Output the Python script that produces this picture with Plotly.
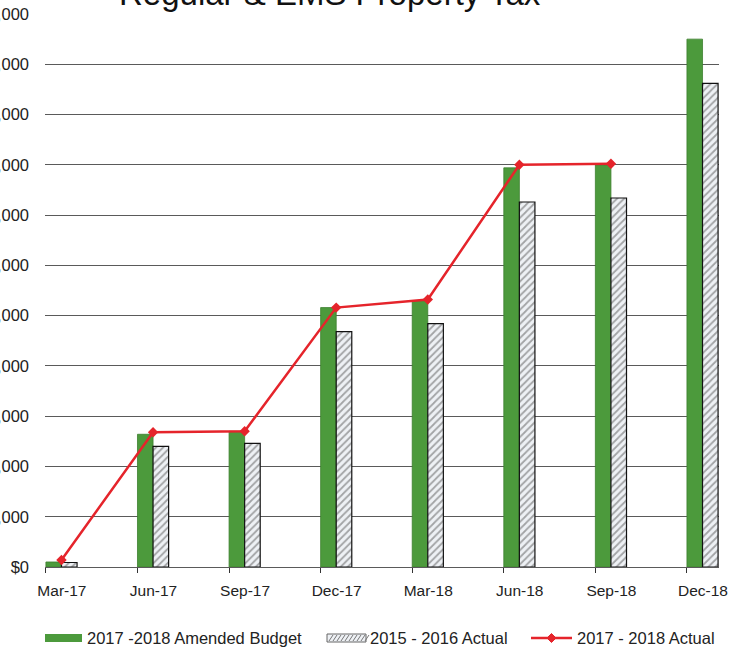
import plotly.graph_objects as go

# Quarter labels and cumulative property tax totals (dollars)
quarters = ["Mar-17", "Jun-17", "Sep-17", "Dec-17", "Mar-18", "Jun-18", "Sep-18", "Dec-18"]
amended_budget_1718 = [10000, 264000, 270000, 516000, 530000, 794000, 800000, 1050000]
actual_1516 = [9000, 240000, 246000, 468000, 484000, 726000, 734000, 962000]
actual_1718 = [14000, 268000, 270000, 516000, 532000, 800000, 802000, None]
y_ticks = [0, 100000, 200000, 300000, 400000, 500000, 600000, 700000, 800000, 900000, 1000000, 1100000]

series_names = ["2017 -2018 Amended Budget", "2015 - 2016 Actual", "2017 - 2018 Actual"]

GREEN = "#4c9a3c"
RED = "#e5242b"
HATCH_BG = "#eef1f5"
pos = list(range(len(quarters)))
bar_w = 0.17
font_family = "Arial, Liberation Sans, sans-serif"

W, H = 735, 651
M = dict(l=45, r=16, t=14, b=84)
plot_w = W - M["l"] - M["r"]
plot_h = H - M["t"] - M["b"]
x_range = [-0.18, len(quarters) - 1 + 0.18]
px_per_cat = plot_w / (x_range[1] - x_range[0])


def px_x(px):
    """Page pixel column -> paper x."""
    return (px - M["l"]) / plot_w


def px_y(py):
    """Page pixel row -> paper y."""
    return (H - M["b"] - py) / plot_h


fig = go.Figure()

fig.add_trace(go.Bar(
    x=pos, y=amended_budget_1718, name=series_names[0],
    width=bar_w, offset=-bar_w,
    marker=dict(color=GREEN, line=dict(color="#3c7f2e", width=0.8)),
))
fig.add_trace(go.Bar(
    x=pos, y=actual_1516, name=series_names[1],
    width=bar_w, offset=0,
    marker=dict(color=HATCH_BG, line=dict(color="#111111", width=1.2),
                pattern=dict(shape="/", fgcolor="#555555", bgcolor=HATCH_BG,
                             size=5, solidity=0.35)),
))
fig.add_trace(go.Scatter(
    x=pos, y=actual_1718, name=series_names[2],
    mode="lines+markers",
    line=dict(color=RED, width=2.5),
    marker=dict(symbol="diamond", size=8, color=RED),
))

# Legend row drawn below the axis: wide swatches followed by labels
leg_y = 638
shapes = []
annotations = []

# green swatch
shapes.append(dict(type="rect", xref="paper", yref="paper",
                   x0=px_x(45), x1=px_x(82), y0=px_y(642), y1=px_y(634),
                   fillcolor=GREEN, line=dict(width=0)))
# hatched swatch
shapes.append(dict(type="rect", xref="paper", yref="paper",
                   x0=px_x(327), x1=px_x(366), y0=px_y(642), y1=px_y(634),
                   fillcolor=HATCH_BG, line=dict(color="#666666", width=1)))
hatch_path = ""
for hx in range(329, 366, 4):
    hatch_path += "M{:.5f},{:.5f} L{:.5f},{:.5f} ".format(
        px_x(hx), px_y(641), px_x(hx + 4), px_y(635))
shapes.append(dict(type="path", xref="paper", yref="paper", path=hatch_path.strip(),
                   line=dict(color="#777777", width=1)))
# red line swatch with diamond
shapes.append(dict(type="line", xref="paper", yref="paper",
                   x0=px_x(531), x1=px_x(572), y0=px_y(leg_y), y1=px_y(leg_y),
                   line=dict(color=RED, width=2.5)))
dcx, dr = 551.5, 4.5
diamond = "M{:.5f},{:.5f} L{:.5f},{:.5f} L{:.5f},{:.5f} L{:.5f},{:.5f} Z".format(
    px_x(dcx), px_y(leg_y - dr), px_x(dcx + dr), px_y(leg_y),
    px_x(dcx), px_y(leg_y + dr), px_x(dcx - dr), px_y(leg_y))
shapes.append(dict(type="path", xref="paper", yref="paper", path=diamond,
                   fillcolor=RED, line=dict(color=RED, width=1)))

for name, tx in zip(series_names, [85, 368, 575]):
    annotations.append(dict(
        text=name, xref="paper", yref="paper", x=px_x(tx), y=px_y(leg_y),
        xanchor="left", yanchor="middle", showarrow=False,
        font=dict(size=16.5, family=font_family, color="#222222"),
    ))

# Title, sitting at the very top edge of the page
annotations.append(dict(
    text="Regular & EMS Property Tax", xref="paper", yref="paper",
    x=px_x(330), y=1.037, xanchor="center", yanchor="middle",
    showarrow=False, font=dict(size=33, family=font_family, color="#111111"),
))

fig.update_layout(
    width=W, height=H,
    margin=dict(l=M["l"], r=M["r"], t=M["t"], b=M["b"], autoexpand=False),
    paper_bgcolor="white", plot_bgcolor="white",
    font=dict(family=font_family, color="#222222"),
    showlegend=False,
    xaxis=dict(
        range=x_range, tickmode="array",
        # tick marks sit at the left edge of each bar pair; labels centred on the pair
        tickvals=[p - bar_w for p in pos], ticktext=quarters,
        ticklabelshift=int(round(bar_w * px_per_cat)),
        ticks="outside", ticklen=5, tickwidth=1.2, tickcolor="#333333",
        showgrid=False, zeroline=False, showline=False,
        ticklabelstandoff=4,
        tickfont=dict(size=15.5, family=font_family, color="#222222"),
        automargin=False,
    ),
    yaxis=dict(
        range=[0, 1100000], tickmode="array", tickvals=y_ticks,
        tickformat="$,.0f", showgrid=True, gridcolor="#5a5a5a", gridwidth=1.3,
        zeroline=True, zerolinecolor="#5a5a5a", zerolinewidth=1.3,
        showline=False, ticks="", ticklabelstandoff=15,
        tickfont=dict(size=16.5, family=font_family, color="#222222"),
        automargin=False,
    ),
    shapes=shapes,
    annotations=annotations,
)

fig.write_html("out.html")
